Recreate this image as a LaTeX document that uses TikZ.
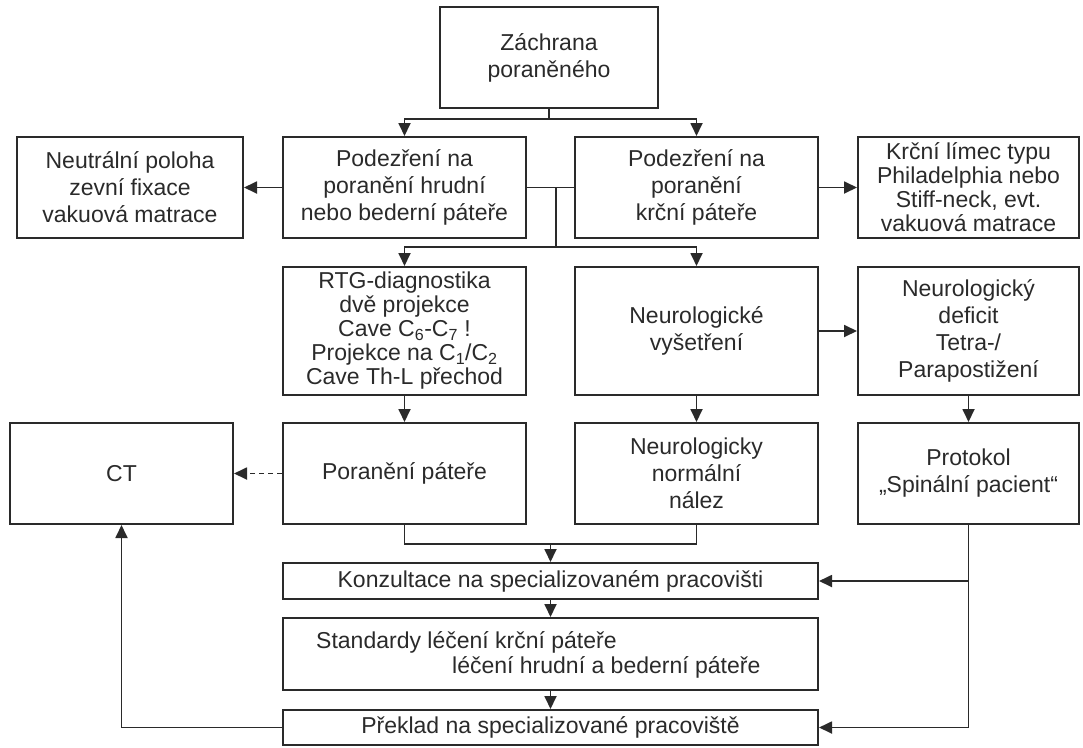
\documentclass[tikz,border=0pt]{standalone}
\usepackage{fontspec}
\setmainfont{Liberation Sans}
\usetikzlibrary{arrows.meta}
\definecolor{ink}{HTML}{2A2A2A}
\begin{document}
\begin{tikzpicture}[x=1pt,y=-1pt,
  box/.style={draw=ink, line width=2pt, inner sep=0pt, align=center, text=ink,
    font=\fontsize{23}{27}\selectfont},
  lbl/.style={inner sep=0pt, text=ink, font=\fontsize{23}{27}\selectfont},
  conn/.style={draw=ink, line width=1.8pt},
  arr/.style={conn, -{Triangle[length=13pt,width=12pt]}}]
\useasboundingbox (0,0) rectangle (1083,747);
% nodes
\node[box, minimum width=218pt, minimum height=101pt] (zach) at (549,57.5) {Záchrana\\poraněného};
\node[box, minimum width=226pt, minimum height=101pt] (neut) at (130,187.5) {Neutrální poloha\\zevní fixace\\vakuová matrace};
\node[box, minimum width=243pt, minimum height=101pt] (hrud) at (404.5,187.5) {Podezření na\\poranění hrudní\\nebo bederní páteře};
\node[box, minimum width=243pt, minimum height=101pt] (krc) at (696.5,187.5) {Podezření na\\poranění\\krční páteře};
\node[box, minimum width=221pt, minimum height=101pt, font=\fontsize{23}{24}\selectfont] (lim) at (968.5,187.5) {Krční límec typu\\Philadelphia nebo\\Stiff-neck, evt.\\vakuová matrace};
\node[box, minimum width=243pt, minimum height=128pt, font=\fontsize{23}{24}\selectfont] (rtg) at (404.5,331) {RTG-diagnostika\\dvě projekce\\Cave C\textsubscript{6}-C\textsubscript{7} !\\Projekce na C\textsubscript{1}/C\textsubscript{2}\\Cave Th-L přechod};
\node[box, minimum width=243pt, minimum height=128pt] (nvys) at (696.5,331) {Neurologické\\vyšetření};
\node[box, minimum width=221pt, minimum height=128pt] (ndef) at (968.5,331) {Neurologický\\deficit\\Tetra-/\\Parapostižení};
\node[box, minimum width=223pt, minimum height=101pt] (ct) at (121.5,473.5) {CT};
\node[box, minimum width=243pt, minimum height=101pt] (por) at (404.5,473.5) {Poranění páteře};
\node[box, minimum width=243pt, minimum height=101pt] (nnor) at (696.5,473.5) {Neurologicky\\normální\\nález};
\node[box, minimum width=221pt, minimum height=101pt] (prot) at (968.5,473.5) {Protokol\\„Spinální pacient“};
\node[box, minimum width=535pt, minimum height=36pt] (konz) at (550.5,581) {Konzultace na specializovaném pracovišti};
\node[box, minimum width=535pt, minimum height=72pt] (stan) at (550.5,654) {};
\node[lbl, anchor=west] (stanA) at (316,642) {Standardy léčení krční páteře};
\node[lbl, anchor=west] (stanB) at (452,667) {léčení hrudní a bederní páteře};
\node[box, minimum width=535pt, minimum height=35pt] (prek) at (550.5,727.5) {Překlad na specializované pracoviště};
% junction coordinates
\coordinate (j1) at (549,119);
\coordinate (j2) at (556,187.5);
\coordinate (j3) at (556,247);
\coordinate (j4) at (550.5,544);
\coordinate (j5) at (prot.south |- konz.east);
\coordinate (j6) at (prot.south |- prek.east);
% connectors
\draw[conn] (zach.south) -- (j1);
\draw[arr] (j1) -| (hrud.north);
\draw[arr] (j1) -| (krc.north);
\draw[arr] (hrud.west) -- (neut.east);
\draw[arr] (krc.east) -- (lim.west);
\draw[conn] (hrud.east) -- (krc.west);
\draw[conn] (j2) -- (j3);
\draw[arr] (j3) -| (rtg.north);
\draw[arr] (j3) -| (nvys.north);
\draw[arr] (nvys.east) -- (ndef.west);
\draw[arr] (rtg.south) -- (por.north);
\draw[arr] (nvys.south) -- (nnor.north);
\draw[arr] (ndef.south) -- (prot.north);
\draw[arr, dash pattern=on 5pt off 4pt] (por.west) -- (ct.east);
\draw[conn] (por.south) |- (j4);
\draw[conn] (nnor.south) |- (j4);
\draw[arr] (j4) -- (konz.north);
\draw[arr] (konz.south) -- (stan.north);
\draw[arr] (stan.south) -- (prek.north);
\draw[conn] (prot.south) -- (j6);
\draw[arr] (j5) -- (konz.east);
\draw[arr] (j6) -- (prek.east);
\draw[arr] (prek.west) -| (ct.south);
\end{tikzpicture}
\end{document}
